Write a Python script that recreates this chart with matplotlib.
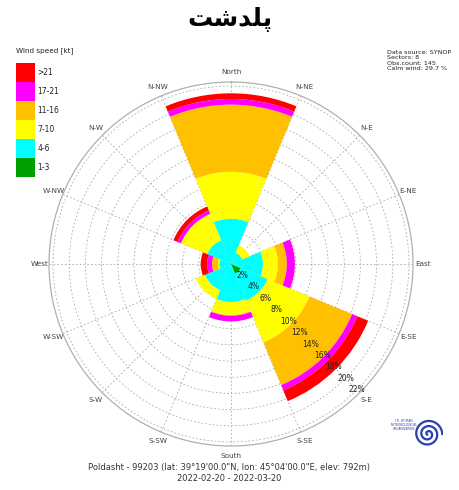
import numpy as np
import matplotlib
matplotlib.use("Agg")
import matplotlib.pyplot as plt

# ---------------- data ----------------
directions = ["N", "NE", "E", "SE", "S", "SW", "W", "NW"]
dir_angles = [0, 45, 90, 135, 180, 225, 270, 315]
speed_classes = ["1-3", "4-6", "7-10", "11-16", "17-21", ">21"]
class_colors = ["#009F00", "#00FFFF", "#FFFF00", "#FFC000", "#FF00FF", "#FF0000"]

# frequency (%) per speed class, for each direction (N, NE, E, SE, S, SW, W, NW)
freq_1_3   = [0.0, 0.0, 0.0, 1.3, 0.0, 0.0, 0.0, 0.0]
freq_4_6   = [5.6, 1.5, 3.95, 3.6, 4.7, 3.5, 1.4, 3.2]
freq_7_10  = [5.8, 1.0, 1.85, 5.6, 1.6, 1.2, 0.2, 3.5]
freq_11_16 = [8.3, 0.0, 1.1, 5.7, 0.1, 0.0, 0.75, 0.0]
freq_17_21 = [0.7, 0.0, 1.0, 0.7, 0.7, 0.0, 0.6, 0.45]
freq_gt21  = [0.7, 0.0, 0.0, 1.45, 0.0, 0.0, 0.8, 0.55]
class_freqs = [freq_1_3, freq_4_6, freq_7_10, freq_11_16, freq_17_21, freq_gt21]

radial_ticks = [2, 4, 6, 8, 10, 12, 14, 16, 18, 20, 22]
theta_labels = ["North", "N-NE", "N-E", "E-NE", "East", "E-SE", "S-E", "S-SE",
                "South", "S-SW", "S-W", "W-SW", "West", "W-NW", "N-W", "N-NW"]

# Persian station name "پلدشت" in shaped presentation forms (visual order)
title_text = "\uFE96\uFEB7\uFEAA\uFEE0\uFB58"
info_lines = ["Data source: SYNOP", "Sectors: 8", "Obs.count: 145", "Calm wind: 29.7 %"]
footer1 = "Poldasht - 99203 (lat: 39\u00b019'00.0\"N, lon: 45\u00b004'00.0\"E, elev: 792m)"
footer2 = "2022-02-20 - 2022-03-20"
rmax = 22.5

# ---------------- figure ----------------
W, H = 459, 490
fig = plt.figure(figsize=(W / 100, H / 100), dpi=100)
fig.patch.set_facecolor("white")

cx, cy, R = 231, 264, 182
ax = fig.add_axes([(cx - R) / W, (H - cy - R) / H, 2 * R / W, 2 * R / H], projection="polar")
ax.set_theta_zero_location("N")
ax.set_theta_direction(-1)
ax.set_axisbelow(True)

theta = np.deg2rad(dir_angles)
width = np.deg2rad(45)
bottom = np.zeros(len(directions))
for vals, col in zip(class_freqs, class_colors):
    v = np.array(vals)
    ax.bar(theta, v, width=width, bottom=bottom, color=col, edgecolor="none",
           linewidth=0, align="center", zorder=2)
    bottom = bottom + v

ax.set_ylim(0, rmax)
ax.set_yticks(radial_ticks)
ax.set_yticklabels([])
ax.set_thetagrids(np.arange(0, 360, 22.5), theta_labels)
ax.tick_params(axis="x", labelsize=5.2, colors="#444444", pad=-3.5)
ax.grid(True, color="#aaaaaa", linestyle=(0, (2, 2.5)), linewidth=0.6)
ax.spines["polar"].set_color("#b0b0b0")
ax.spines["polar"].set_linewidth(0.9)

for t in radial_ticks:
    ax.text(np.deg2rad(135), t, f"{t}%", ha="center", va="center",
            fontsize=5.5, color="#222222", zorder=5)

# ---------------- title ----------------
fig.text(0.5, 1 - 19 / H, title_text, ha="center", va="center",
         fontsize=18, fontweight="bold", family="DejaVu Sans", color="black")

# ---------------- legend ----------------
fig.text(16 / W, 1 - 51 / H, "Wind speed [kt]", fontsize=5.2, ha="left", va="center", color="#222222")
lax = fig.add_axes([16 / W, 1 - 177 / H, 19 / W, 114 / H])
n = len(speed_classes)
for i, (lab, col) in enumerate(zip(speed_classes, class_colors)):
    lax.bar(0, 1, bottom=i, width=1, color=col, edgecolor="none", align="edge")
    lax.text(1.12, i + 0.5, lab, fontsize=5.5, ha="left", va="center", color="#222222",
             clip_on=False)
lax.set_xlim(0, 1)
lax.set_ylim(0, n)
lax.axis("off")

# ---------------- info text ----------------
for k, line in enumerate(info_lines):
    fig.text(387 / W, 1 - (52 + 5.6 * k) / H, line, fontsize=4.6, ha="left", va="center",
             color="#222222")

# ---------------- footer ----------------
fig.text(0.5, 1 - 467 / H, footer1, fontsize=6, ha="center", va="center", color="#333333")
fig.text(0.5, 1 - 478 / H, footer2, fontsize=6, ha="center", va="center", color="#333333")

# ---------------- logo (decorative) ----------------
gax = fig.add_axes([413 / W, 1 - 452 / H, 30 / W, 36 / H])
tt = np.linspace(0, 5.2 * np.pi, 400)
rr = 1 - tt / (5.6 * np.pi)
gax.plot(rr * np.cos(tt), rr * np.sin(tt), color="#2b3fb0", lw=1.6)
gax.set_xlim(-1.05, 1.05)
gax.set_ylim(-1.05, 1.05)
gax.set_aspect("equal")
gax.axis("off")
fig.text(404 / W, 1 - 425 / H, "I.R. OF IRAN\nMETEOROLOGICAL\nORGANIZATION", fontsize=2.2,
         ha="center", va="center", color="#2b3fb0", linespacing=1.1)

fig.savefig("out.png", dpi=100, facecolor="white")
